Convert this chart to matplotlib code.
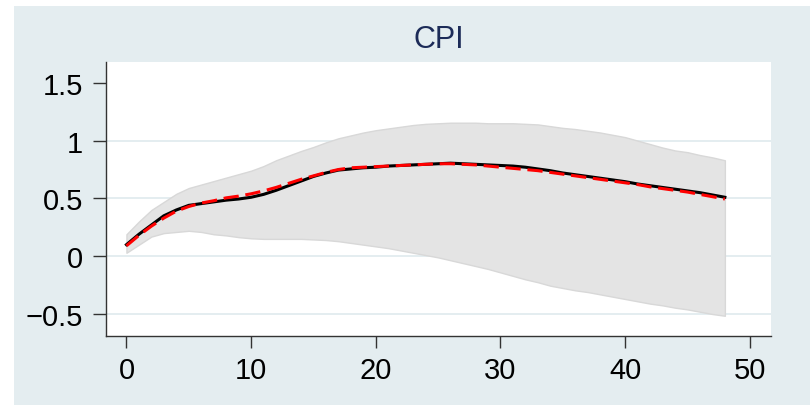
import matplotlib
matplotlib.use("Agg")
import matplotlib.pyplot as plt
from matplotlib.patches import Rectangle
import numpy as np

plt.rcParams['font.family'] = ['Liberation Sans', 'DejaVu Sans']

# impulse response of CPI, horizons 0..48
horizon = np.arange(49)

irf_mean = [0.10, 0.19, 0.27, 0.35, 0.40, 0.44, 0.455, 0.47, 0.485, 0.495,
            0.51, 0.535, 0.57, 0.61, 0.65, 0.69, 0.72, 0.745, 0.755, 0.765,
            0.77, 0.78, 0.785, 0.79, 0.795, 0.80, 0.805, 0.80, 0.795, 0.79,
            0.785, 0.78, 0.77, 0.755, 0.74, 0.72, 0.705, 0.69, 0.675, 0.66,
            0.645, 0.625, 0.61, 0.595, 0.58, 0.565, 0.55, 0.53, 0.51]

irf_median = [0.09, 0.18, 0.26, 0.33, 0.39, 0.43, 0.46, 0.48, 0.505, 0.52,
              0.54, 0.565, 0.595, 0.63, 0.665, 0.695, 0.725, 0.75, 0.765, 0.77,
              0.775, 0.78, 0.785, 0.79, 0.795, 0.80, 0.80, 0.795, 0.79, 0.78,
              0.77, 0.76, 0.75, 0.74, 0.725, 0.71, 0.695, 0.68, 0.665, 0.65,
              0.635, 0.62, 0.60, 0.585, 0.57, 0.555, 0.535, 0.515, 0.495]

band_upper = [0.19, 0.30, 0.40, 0.47, 0.54, 0.59, 0.62, 0.65, 0.68, 0.71,
              0.74, 0.78, 0.83, 0.87, 0.91, 0.945, 0.985, 1.02, 1.045, 1.07,
              1.09, 1.105, 1.12, 1.135, 1.145, 1.15, 1.155, 1.155, 1.155, 1.15,
              1.15, 1.15, 1.145, 1.14, 1.125, 1.11, 1.10, 1.085, 1.07, 1.05,
              1.03, 1.0, 0.97, 0.94, 0.915, 0.90, 0.875, 0.855, 0.83]

band_lower = [0.03, 0.10, 0.17, 0.20, 0.21, 0.22, 0.21, 0.19, 0.18, 0.165,
              0.155, 0.15, 0.15, 0.15, 0.15, 0.145, 0.14, 0.13, 0.115, 0.10,
              0.085, 0.07, 0.05, 0.03, 0.01, -0.01, -0.035, -0.06, -0.085, -0.11,
              -0.14, -0.17, -0.20, -0.225, -0.255, -0.275, -0.295, -0.31, -0.33, -0.35,
              -0.37, -0.39, -0.41, -0.425, -0.445, -0.46, -0.48, -0.50, -0.515]

xticks = [0, 10, 20, 30, 40, 50]
yticks = [-0.5, 0, 0.5, 1, 1.5]
ytick_labels = ["\u22120.5", "0", "0.5", "1", "1.5"]

bg = "#e4edf0"
W, H = 810, 406

fig = plt.figure(figsize=(8.1, 4.06), dpi=100, facecolor="white")
fig.patches.append(Rectangle((14 / W, 0), 1, (H - 7) / H, transform=fig.transFigure,
                             facecolor=bg, edgecolor="none", zorder=-10))

ax = fig.add_axes([106 / W, (H - 337) / H, (771 - 106) / W, (337 - 63) / H])
ax.set_zorder(5)
ax.set_facecolor("white")

for y in [-0.5, 0, 0.5, 1]:
    ax.axhline(y, color=bg, lw=1.4, zorder=1)

ax.fill_between(horizon, band_lower, band_upper, facecolor="#e4e4e4",
                edgecolor="#d8d8d8", lw=1.0, zorder=2)
ax.plot(horizon, irf_mean, color="black", lw=2.2, zorder=3)
ax.plot(horizon, irf_median, color="#ff0000", lw=2.2, dashes=(5, 2.2), zorder=4)

ax.set_xlim(-1.64, 51.7)
ax.set_ylim(-0.69, 1.68)
ax.set_xticks(xticks)
ax.set_yticks(yticks)
ax.set_yticklabels(ytick_labels)
ax.tick_params(axis="both", direction="out", width=1.0, color="#333333",
               labelsize=21, labelcolor="black")
ax.tick_params(axis="x", length=8.6, pad=6)
ax.tick_params(axis="y", length=9.4, pad=7)

for side in ["top", "right"]:
    ax.spines[side].set_visible(False)
for side in ["left", "bottom"]:
    ax.spines[side].set_color("#333333")
    ax.spines[side].set_linewidth(1.0)

ax.set_title("CPI", fontsize=22, color="#1c2b58", pad=11)

fig.savefig("out.png", dpi=100, facecolor=fig.get_facecolor())
